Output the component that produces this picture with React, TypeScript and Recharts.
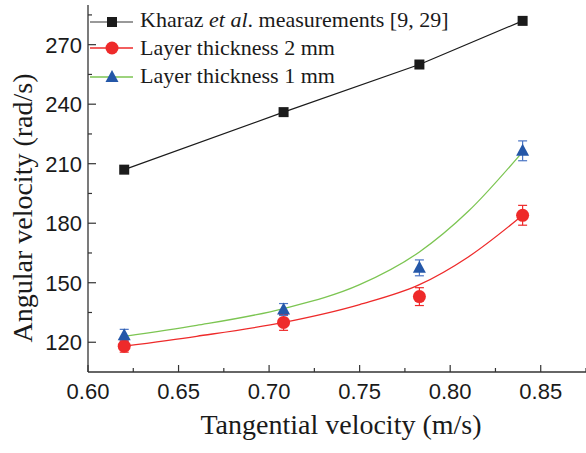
import {
  ComposedChart, Line, Scatter, ErrorBar,
  XAxis, YAxis,
} from 'recharts';

const AXIS_COLOR = '#333';
const TEXT_COLOR = '#1a1a1a';
const BLACK = '#1b1b1b';
const RED = '#ee2a2a';
const BLUE = '#2457a8';
const BLUE_ERR = '#4a74c4';
const GREEN = '#7cc552';
const SANS = '"Liberation Sans", Arial, sans-serif';
const SERIF = '"Liberation Serif", "Times New Roman", serif';

// measured points
const velocity = [0.62, 0.708, 0.783, 0.84];
const kharaz = [207, 236, 260, 282];
const layer2 = [118, 130, 143, 184];
const layer2Err = [3, 4, 4.5, 5];
const layer1 = [123.5, 136.5, 157.5, 216.5];
const layer1Err = [3, 3, 4, 5];

// fitted curves
const fitX = [0.62, 0.66, 0.708, 0.75, 0.783, 0.81, 0.84];
const fit2 = [118, 123, 130, 139, 149, 163, 184];
const fit1 = [123, 128.5, 137, 149, 165.5, 186, 216];

// axes
const xTicks = [0.6, 0.625, 0.65, 0.675, 0.7, 0.725, 0.75, 0.775, 0.8, 0.825, 0.85, 0.875];
const xLabels = [0.6, 0.65, 0.7, 0.75, 0.8, 0.85];
const yTicks = [135, 120, 150, 165, 180, 195, 210, 225, 240, 255, 270, 285];
const yLabels = [120, 150, 180, 210, 240, 270];

const kharazData = velocity.map((x, i) => ({ x, y: kharaz[i] }));
const layer2Data = velocity.map((x, i) => ({ x, y: layer2[i], err: layer2Err[i] }));
const layer1Data = velocity.map((x, i) => ({ x, y: layer1[i], err: layer1Err[i] }));
const fit2Data = fitX.map((x, i) => ({ x, y: fit2[i] }));
const fit1Data = fitX.map((x, i) => ({ x, y: fit1[i] }));

const sansStyle = { fontFamily: SANS, fontSize: 22 };
const serifStyle = { fontFamily: SERIF, fontSize: 22 };

// eslint-disable-next-line @typescript-eslint/no-explicit-any
function BottomTick({ x, y, payload }: any) {
  const major = xLabels.includes(payload.value);
  return (
    <g>
      <line x1={x} x2={x} y1={y} y2={y - (major ? 7 : 4)} stroke={AXIS_COLOR} strokeWidth={1.2} />
      {major && (
        <text x={x} y={y + 27} textAnchor="middle" style={sansStyle} fill={TEXT_COLOR}>
          {payload.value.toFixed(2)}
        </text>
      )}
    </g>
  );
}

// eslint-disable-next-line @typescript-eslint/no-explicit-any
function TopTick({ x, y, payload }: any) {
  const major = xLabels.includes(payload.value);
  return <line x1={x} x2={x} y1={y} y2={y + (major ? 7 : 4)} stroke={AXIS_COLOR} strokeWidth={1.2} />;
}

// eslint-disable-next-line @typescript-eslint/no-explicit-any
function LeftTick({ x, y, payload }: any) {
  const major = yLabels.includes(payload.value);
  return (
    <g>
      <line x1={x} x2={x + (major ? 8 : 4)} y1={y} y2={y} stroke={AXIS_COLOR} strokeWidth={1.2} />
      {major && (
        <text x={x - 6} y={y + 8} textAnchor="end" style={sansStyle} fill={TEXT_COLOR}>
          {payload.value}
        </text>
      )}
    </g>
  );
}

// eslint-disable-next-line @typescript-eslint/no-explicit-any
const Square = ({ cx, cy }: any) => <rect x={cx - 5} y={cy - 5} width={10} height={10} fill={BLACK} />;
// eslint-disable-next-line @typescript-eslint/no-explicit-any
const Dot = ({ cx, cy }: any) => <circle cx={cx} cy={cy} r={6.5} fill={RED} />;
// eslint-disable-next-line @typescript-eslint/no-explicit-any
const Tri = ({ cx, cy }: any) => (
  <polygon points={`${cx},${cy - 7} ${cx - 6.5},${cy + 5} ${cx + 6.5},${cy + 5}`} fill={BLUE} />
);

function LegendBox() {
  const rows = [
    { line: '#777', y: 22, marker: <rect x={107} y={17} width={10} height={10} fill={BLACK} /> },
    { line: RED, y: 48, marker: <circle cx={112} cy={48} r={6.5} fill={RED} /> },
    { line: GREEN, y: 77, marker: <polygon points="112,70 105.5,82 118.5,82" fill={BLUE} /> },
  ];
  return (
    <svg width={586} height={100} style={{ position: 'absolute', left: 0, top: 0, pointerEvents: 'none' }}>
      {rows.map(r => (
        <g key={r.y}>
          <line x1={90} x2={133} y1={r.y} y2={r.y} stroke={r.line} strokeWidth={1.3} />
          {r.marker}
        </g>
      ))}
      <text x={140} y={27} style={serifStyle} fill={TEXT_COLOR}>
        Kharaz <tspan fontStyle="italic">et al</tspan>. measurements [9, 29]
      </text>
      <text x={140} y={55} style={serifStyle} fill={TEXT_COLOR}>Layer thickness 2 mm</text>
      <text x={140} y={83} style={serifStyle} fill={TEXT_COLOR}>Layer thickness 1 mm</text>
    </svg>
  );
}

export default function App() {
  return (
    <div style={{ position: 'absolute', left: 0, top: 0, width: 586, height: 453, background: '#fff' }}>
      <ComposedChart width={586} height={453} margin={{ top: 5, right: 0, left: 0, bottom: 0 }}>
        <XAxis
          xAxisId="bottom"
          type="number"
          dataKey="x"
          domain={[0.6, 0.875]}
          ticks={xTicks}
          interval={0}
          height={81}
          tickSize={0}
          tickMargin={0}
          tickLine={false}
          tick={<BottomTick />}
          axisLine={{ stroke: AXIS_COLOR, strokeWidth: 1.3 }}
          allowDataOverflow
          label={{
            content: () => (
              <text x={341} y={434} textAnchor="middle" style={{ fontFamily: SERIF, fontSize: 28 }} fill={TEXT_COLOR}>
                Tangential velocity (m/s)
              </text>
            ),
          }}
        />
        <XAxis
          xAxisId="top"
          orientation="top"
          type="number"
          dataKey="x"
          domain={[0.6, 0.875]}
          ticks={xTicks}
          interval={0}
          height={0}
          tickSize={0}
          tickMargin={0}
          tickLine={false}
          tick={<TopTick />}
          axisLine={{ stroke: AXIS_COLOR, strokeWidth: 1.3 }}
          allowDataOverflow
        />
        <YAxis
          type="number"
          dataKey="y"
          domain={[105, 290]}
          ticks={yTicks}
          interval={0}
          width={88}
          tickSize={0}
          tickMargin={0}
          tickLine={false}
          tick={<LeftTick />}
          axisLine={{ stroke: AXIS_COLOR, strokeWidth: 1.3 }}
          allowDataOverflow
          label={{
            content: () => (
              <text x={32} y={208} transform="rotate(-90 32 208)" textAnchor="middle" style={{ fontFamily: SERIF, fontSize: 28 }} fill={TEXT_COLOR}>
                Angular velocity (rad/s)
              </text>
            ),
          }}
        />
        <Line xAxisId="bottom" data={fit2Data} dataKey="y" type="monotone" stroke={RED} strokeWidth={1.3} dot={false} isAnimationActive={false} />
        <Line xAxisId="bottom" data={fit1Data} dataKey="y" type="monotone" stroke={GREEN} strokeWidth={1.3} dot={false} isAnimationActive={false} />
        <Line xAxisId="bottom" data={kharazData} dataKey="y" type="linear" stroke={BLACK} strokeWidth={1.2} dot={false} isAnimationActive={false} />
        <Scatter xAxisId="bottom" data={kharazData} dataKey="y" shape={<Square />} isAnimationActive={false} />
        <Scatter xAxisId="bottom" data={layer2Data} dataKey="y" shape={<Dot />} isAnimationActive={false}>
          <ErrorBar dataKey="err" direction="y" width={4.5} stroke={RED} strokeWidth={1.2} />
        </Scatter>
        <Scatter xAxisId="bottom" data={layer1Data} dataKey="y" shape={<Tri />} isAnimationActive={false}>
          <ErrorBar dataKey="err" direction="y" width={4.5} stroke={BLUE_ERR} strokeWidth={1.2} />
        </Scatter>
      </ComposedChart>
      <LegendBox />
    </div>
  );
}
